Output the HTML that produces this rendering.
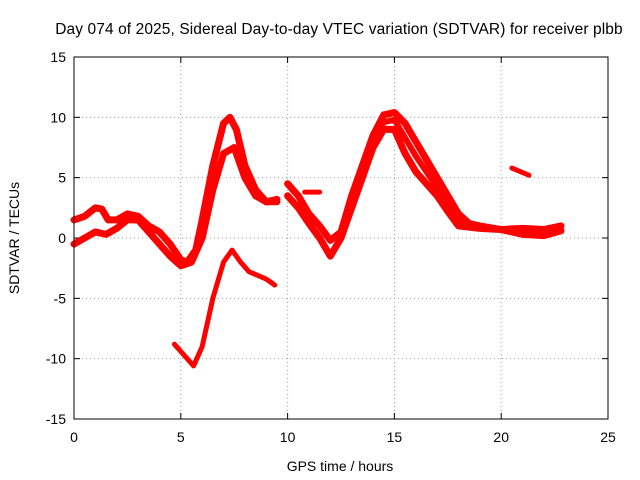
<!DOCTYPE html>
<html><head><meta charset="utf-8">
<style>
body{margin:0;background:#fff;}
svg{display:block;font-family:"Liberation Sans",sans-serif;}
</style></head>
<body>
<svg id="chart" width="640" height="480">
<text x="339" y="34" font-size="15.5" letter-spacing="0.1" text-anchor="middle">Day 074 of 2025, Sidereal Day-to-day VTEC variation (SDTVAR) for receiver plbb</text>
<text x="340" y="471" font-size="14" text-anchor="middle">GPS time / hours</text>
<text transform="translate(19,238) rotate(-90)" font-size="14" text-anchor="middle">SDTVAR / TECUs</text>
<g id="grid"></g><g id="ticks"></g><g id="series"></g>
<rect x="74" y="57" width="534" height="362" fill="none" stroke="#000" stroke-width="1"/>
</svg>
<script>
const xTicks=[0,5,10,15,20,25];
const yTicks=[-15,-10,-5,0,5,10,15];
const bandUpper=[[0,1.5],[0.5,1.8],[1,2.5],[1.3,2.4],[1.6,1.5],[2,1.5],[2.5,2],[3,1.8],[3.5,1],[4,0.5],[4.5,-0.5],[5,-1.8],[5.3,-2],[5.7,-1],[6,1.5],[6.5,6],[7,9.5],[7.3,10],[7.6,9],[8,6],[8.5,4],[9,3],[9.5,3.2]];
const bandLower=[[0,-0.5],[0.5,0],[1,0.5],[1.5,0.3],[2,0.8],[2.5,1.5],[3,1.5],[3.5,0.5],[4,-0.5],[4.5,-1.5],[5,-2.3],[5.5,-2],[6,0],[6.5,4],[7,7],[7.5,7.5],[8,5],[8.5,3.5],[9,3],[9.5,3]];
const bandLateUpper=[[10,4.5],[10.5,3.5],[11,2],[11.5,1],[12,-0.2],[12.5,0.5],[13,3.5],[13.5,6],[14,8.5],[14.5,10.2],[15,10.4],[15.5,9.5],[16,8],[16.5,6.5],[17,5],[17.5,3.5],[18,2],[18.5,1.2],[19,1],[20,0.7],[21,0.8],[22,0.7],[22.8,1]];
const bandLateMid=[[13,3],[13.5,5.5],[14,8],[14.5,9.6],[15,9.8],[15.5,8.3],[16,6.8],[16.5,5.5],[17,4.2],[17.5,3],[18,1.5],[18.5,1]];
const bandLateLower=[[10,3.5],[10.5,2.5],[11,1.2],[11.5,0],[12,-1.5],[12.5,0],[13,2.5],[13.5,5],[14,7.5],[14.5,9],[15,9],[15.5,7],[16,5.5],[16.5,4.5],[17,3.5],[17.5,2.2],[18,1],[19,0.8],[20,0.7],[21,0.3],[22,0.2],[22.8,0.6]];
const negTrack=[[4.7,-8.8],[5.2,-9.8],[5.6,-10.6],[6,-9],[6.5,-5],[7,-2],[7.4,-1],[7.8,-2],[8.2,-2.8],[9,-3.4],[9.4,-3.9]];
const shortTrack=[[20.5,5.8],[21.3,5.2]];
const midTrack=[[10.8,3.8],[11.5,3.8]];

const X0=74,X1=608,Y0=419,Y1=57;
const xs=v=>X0+(v-0)/25*(X1-X0);
const ys=v=>Y0-(v+15)/30*(Y0-Y1);
const NS="http://www.w3.org/2000/svg";
const grid=document.getElementById('grid'),ticks=document.getElementById('ticks'),ser=document.getElementById('series');
function mk(tag,attrs,parent){const e=document.createElementNS(NS,tag);for(const k in attrs)e.setAttribute(k,attrs[k]);parent.appendChild(e);return e;}
xTicks.forEach(t=>{
  const x=xs(t);
  if(t>0&&t<25){const g=mk('line',{x1:x,x2:x,y1:Y0,y2:Y1,stroke:'#a0a0a0','stroke-dasharray':'1,3'},grid);
  
  }
  mk('line',{x1:x,x2:x,y1:Y0,y2:Y0-6,stroke:'#000'},ticks);
  mk('line',{x1:x,x2:x,y1:Y1,y2:Y1+6,stroke:'#000'},ticks);
  const l=mk('text',{x:x,y:Y0+23,'font-size':14,'text-anchor':'middle'},ticks);l.textContent=t;
  
  
});
yTicks.forEach(t=>{
  const y=ys(t);
  if(t>-15&&t<15){const g=mk('line',{x1:X0,x2:X1,y1:y,y2:y,stroke:'#a0a0a0','stroke-dasharray':'1,3'},grid);
  
  }
  mk('line',{x1:X0,x2:X0+6,y1:y,y2:y,stroke:'#000'},ticks);
  mk('line',{x1:X1,x2:X1-6,y1:y,y2:y,stroke:'#000'},ticks);
  const l=mk('text',{x:X0-8,y:y+5,'font-size':14,'text-anchor':'end'},ticks);l.textContent=t;
  
  
});
function draw(arr,w,name){
  const p=mk('polyline',{points:arr.map(d=>xs(d[0])+','+ys(d[1])).join(' '),fill:'none',stroke:'#ff0000','stroke-width':w,'stroke-linejoin':'round','stroke-linecap':'round'},ser);
  
  
}
draw(bandUpper,7,'series-band-upper');
draw(bandLower,7,'series-band-lower');
draw(bandLateUpper,7,'series-late-upper');
draw(bandLateMid,6,'series-late-mid');
draw(bandLateLower,7,'series-late-lower');
draw(negTrack,5,'series-negative-track');
draw(shortTrack,5,'series-short-track');
draw(midTrack,5,'series-mid-track');
</script>
</body></html>
